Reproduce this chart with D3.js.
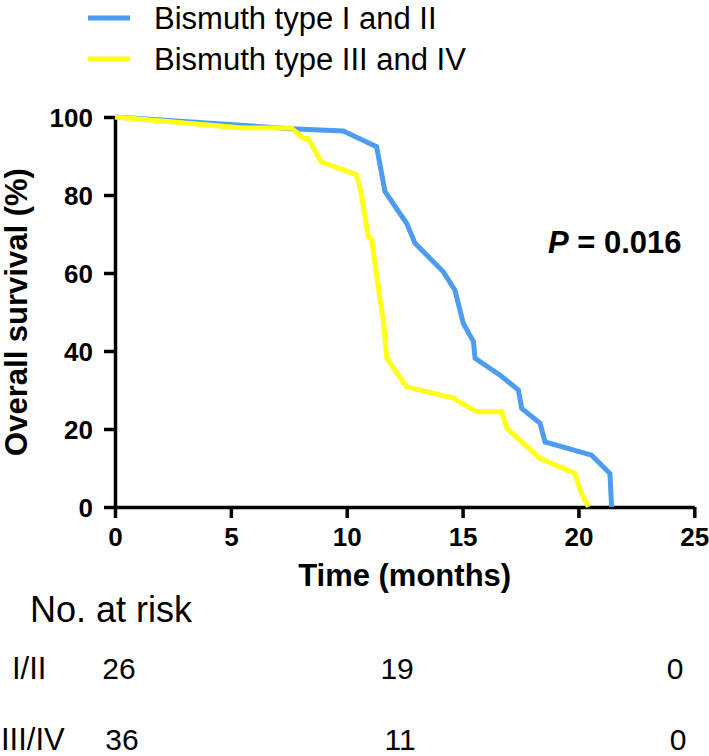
<!DOCTYPE html>
<html>
<head>
<meta charset="utf-8">
<script src="https://cdn.jsdelivr.net/npm/d3@7"></script>
<style>
  html, body { margin: 0; padding: 0; background: #fff; }
  svg { display: block; font-family: "Liberation Sans", Arial, sans-serif; }
</style>
</head>
<body>
<svg id="chart" width="709" height="756"></svg>
<script>
// ---- data ----
const seriesNames = ["Bismuth type I and II", "Bismuth type III and IV"];
const seriesColors = ["#4d9cf0", "#ffff1a"];

const blueTime = [0, 7.6, 9.85, 11.29, 11.65, 12.59, 12.95, 14.17, 14.67, 15.03, 15.47, 15.54, 16.62, 17.41, 17.55, 18.34, 18.56, 20.57, 21.36, 21.43];
const blueSurv = [100, 97, 96.4, 92.4, 80.9, 72.7, 67.6, 60.3, 55.6, 47.1, 42.4, 38.1, 33.8, 30.0, 25.3, 21.5, 16.7, 13.3, 8.6, 0];

const yellowTime = [0, 5.5, 7.6, 8.13, 8.34, 8.9, 10.4, 10.57, 10.72, 10.93, 11.08, 11.44, 11.58, 11.73, 12.59, 14.6, 15.61, 16.69, 16.91, 18.34, 19.85, 20.07, 20.43];
const yellowSurv = [100, 97.2, 97.2, 94.5, 94.5, 88.5, 85.3, 82.1, 77, 69.3, 68.5, 53.1, 47.9, 38.1, 30.8, 27.9, 24.4, 24.4, 20.2, 12.5, 8.6, 4.4, 0];

const xTicks = [0, 5, 10, 15, 20, 25];
const yTicks = [0, 20, 40, 60, 80, 100];

const riskTimes = [0, 12, 24];
const riskRowLabels = ["I/II", "III/IV"];
const riskRow1 = [26, 19, 0];
const riskRow2 = [36, 11, 0];

const pText = "0.016";

// ---- layout ----
const svg = d3.select("#chart");
const x = d3.scaleLinear().domain([0, 25]).range([115, 694.3]);
const y = d3.scaleLinear().domain([0, 100]).range([507, 117]);

// axes
const xAxis = svg.append("g")
  .attr("transform", `translate(0,${y(0)})`)
  .call(d3.axisBottom(x).tickValues(xTicks).tickSize(11).tickSizeOuter(0).tickPadding(10).tickFormat(d3.format("d")));
const yAxis = svg.append("g")
  .attr("transform", `translate(${x(0)},0)`)
  .call(d3.axisLeft(y).tickValues(yTicks).tickSize(11).tickSizeOuter(0).tickPadding(11).tickFormat(d3.format("d")));

[xAxis, yAxis].forEach(g => {
  g.select(".domain").attr("stroke", "#000").attr("stroke-width", 3.5);
  g.selectAll(".tick line").attr("stroke", "#000").attr("stroke-width", 3.5);
  g.selectAll(".tick text")
    .attr("fill", "#000")
    .style("font-size", "26px")
    .style("font-weight", "bold")
    .style("font-family", "'Liberation Sans', Arial, sans-serif");
});
yAxis.selectAll(".tick text").attr("dy", "0.36em");

// lines
const line = d3.line().x(d => x(d[0])).y(d => y(d[1]));
const blueData = blueTime.map((t, i) => [t, blueSurv[i]]);
const yellowData = yellowTime.map((t, i) => [t, yellowSurv[i]]);

svg.append("path").datum(blueData)
  .attr("d", line).attr("fill", "none")
  .attr("stroke", seriesColors[0]).attr("stroke-width", 5)
  .attr("stroke-linejoin", "miter");
svg.append("path").datum(yellowData)
  .attr("d", line).attr("fill", "none")
  .attr("stroke", seriesColors[1]).attr("stroke-width", 5)
  .attr("stroke-linejoin", "miter");

// axis titles
svg.append("text")
  .attr("transform", `translate(27,${(y(0) + y(100)) / 2}) rotate(-90)`)
  .attr("text-anchor", "middle")
  .style("font-size", "31px").style("font-weight", "bold")
  .text("Overall survival (%)");

svg.append("text")
  .attr("x", (x(0) + x(25)) / 2)
  .attr("y", 586)
  .attr("text-anchor", "middle")
  .style("font-size", "31px").style("font-weight", "bold")
  .text("Time (months)");

// P value
const pt = svg.append("text").attr("x", 548).attr("y", 253)
  .style("font-size", "31px").style("font-weight", "bold");
pt.append("tspan").style("font-style", "italic").text("P");
pt.append("tspan").text(" = " + pText);

// legend
const legend = svg.append("g");
const legendY = [18, 59];
seriesNames.forEach((name, i) => {
  legend.append("line")
    .attr("x1", 88).attr("x2", 130)
    .attr("y1", legendY[i]).attr("y2", legendY[i])
    .attr("stroke", seriesColors[i]).attr("stroke-width", 5);
  legend.append("text")
    .attr("x", 154).attr("y", legendY[i] + 11)
    .style("font-size", "31px")
    .text(name);
});

// number at risk
svg.append("text").attr("x", 30).attr("y", 622)
  .style("font-size", "36px").text("No. at risk");

const rowBaselines = [679, 750];
const rows = [riskRow1, riskRow2];
const rowLabelX = [12, 1];
riskRowLabels.forEach((lab, i) => {
  svg.append("text").attr("x", rowLabelX[i]).attr("y", rowBaselines[i])
    .style("font-size", "31px").text(lab);
  rows[i].forEach((v, j) => {
    svg.append("text")
      .attr("x", x(riskTimes[j]) + (i === 0 ? 4 : 7))
      .attr("y", rowBaselines[i])
      .attr("text-anchor", "middle")
      .style("font-size", "30px")
      .text(v);
  });
});
</script>
</body>
</html>
